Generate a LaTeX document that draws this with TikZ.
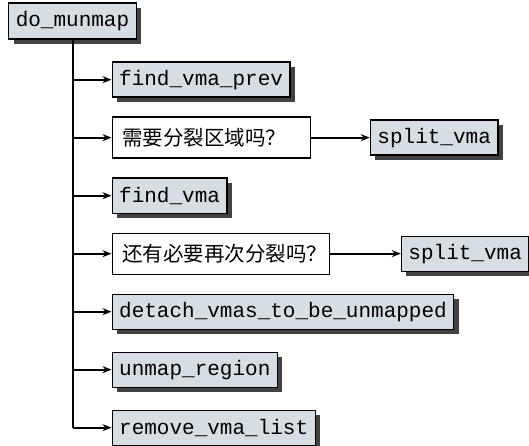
\documentclass[tikz,border=0pt]{standalone}
\usepackage{fontspec}
\setmonofont{Liberation Mono}
\newfontfamily\cjk{Noto Sans CJK SC}
\usepackage{tikz}
\usetikzlibrary{arrows.meta, positioning, shadows}
\definecolor{fnFill}{RGB}{214,222,227}
\definecolor{fnShadow}{RGB}{66,66,66}

\begin{document}
\begin{tikzpicture}[
  x=1pt, y=1pt,
  node distance=58pt,
  fn/.style={
    rectangle, draw=black, fill=fnFill, line width=1.3pt,
    font=\ttfamily\fontsize{21}{24}\selectfont,
    minimum height=35pt, inner xsep=7pt, inner ysep=2pt,
    drop shadow={shadow xshift=5pt, shadow yshift=-5pt, fill=fnShadow, opacity=1}
  },
  ask/.style={
    rectangle, draw=black, fill=white, line width=1.3pt,
    font=\cjk\fontsize{20.5}{24}\selectfont,
    text width=#1, align=left, minimum height=41pt, inner xsep=10pt
  },
  call/.style={-{Stealth[length=9pt, width=7pt]}, line width=1.8pt},
  trunk/.style={line width=2pt},
]

\useasboundingbox (0,0) rectangle (529,-446);

% --- Caller -----------------------------------------------------------------
\node[fn, minimum height=36pt] (root) at (72.5,-21) {do\_munmap};

% --- Branch points on the trunk ----------------------------------------------
\coordinate[below=40pt of root.south] (b1);
\coordinate[below=of b1] (b2);
\coordinate[below=of b2] (b3);
\coordinate[below=of b3] (b4);
\coordinate[below=of b4] (b5);
\coordinate[below=of b5] (b6);
\coordinate[below=of b6] (b7);

% --- Called functions and questions ------------------------------------------
\node[fn,        right=39pt of b1]   (prev)   {find\_vma\_prev};
\node[ask=178pt, right=39pt of b2]   (ask1)   {需要分裂区域吗？};
\node[fn,        right=59pt of ask1] (split1) {split\_vma};
\node[fn,        right=39pt of b3]   (find)   {find\_vma};
\node[ask=197pt, right=39pt of b4]   (ask2)   {还有必要再次分裂吗？};
\node[fn,        right=71pt of ask2] (split2) {split\_vma};
\node[fn,        right=39pt of b5]   (detach) {detach\_vmas\_to\_be\_unmapped};
\node[fn,        right=39pt of b6]   (unmap)  {unmap\_region};
\node[fn,        right=39pt of b7]   (remove) {remove\_vma\_list};

% --- Connectors ----------------------------------------------------------------
\draw[trunk] (root) -- (b7);
\foreach \a/\b in {b1/prev, b2/ask1, b3/find, b4/ask2, b5/detach, b6/unmap, b7/remove, ask1/split1, ask2/split2}
  \draw[call] (\a) -- (\b);

\end{tikzpicture}
\end{document}
